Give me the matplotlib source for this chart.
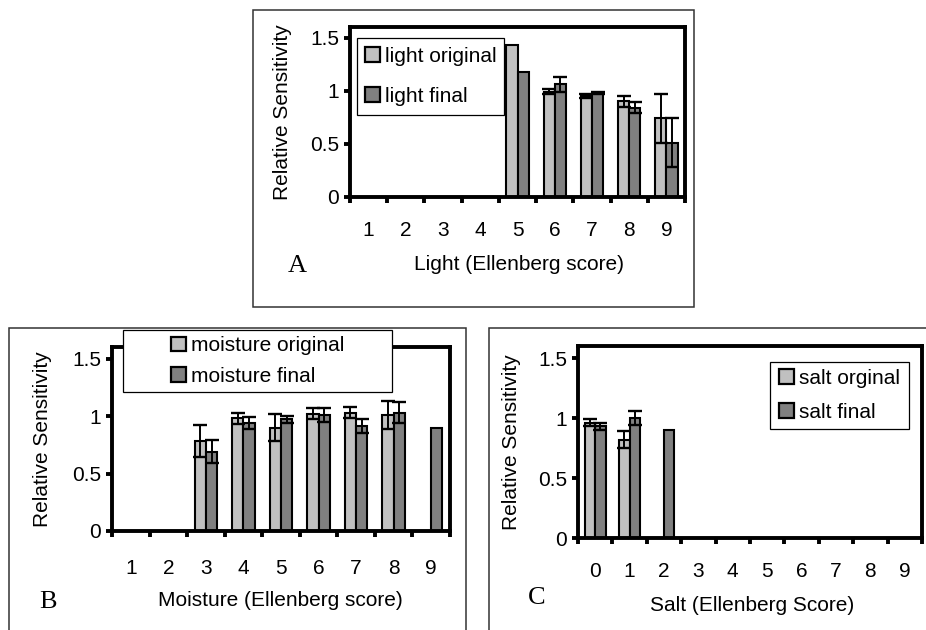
import numpy as np
import matplotlib
matplotlib.use("Agg")
import matplotlib.pyplot as plt
from matplotlib.patches import Rectangle, Patch

W, H = 926, 630
nan = np.nan

# Light (Ellenberg 1-9)
light_scores = [1, 2, 3, 4, 5, 6, 7, 8, 9]
light_orig = [nan, nan, nan, nan, 1.43, 0.99, 0.95, 0.90, 0.74]
light_orig_err = [nan, nan, nan, nan, nan, 0.025, 0.015, 0.05, 0.23]
light_final = [nan, nan, nan, nan, 1.18, 1.06, 0.98, 0.84, 0.51]
light_final_err = [nan, nan, nan, nan, nan, 0.07, 0.01, 0.05, 0.23]

# Moisture (Ellenberg 1-9)
moist_scores = [1, 2, 3, 4, 5, 6, 7, 8, 9]
moist_orig = [nan, nan, 0.78, 0.98, 0.90, 1.02, 1.03, 1.01, nan]
moist_orig_err = [nan, nan, 0.14, 0.05, 0.12, 0.05, 0.05, 0.12, nan]
moist_final = [nan, nan, 0.69, 0.94, 0.97, 1.01, 0.91, 1.03, 0.90]
moist_final_err = [nan, nan, 0.10, 0.05, 0.03, 0.06, 0.06, 0.095, nan]

# Salt (Ellenberg 0-9)
salt_scores = [0, 1, 2, 3, 4, 5, 6, 7, 8, 9]
salt_orig = [0.96, 0.82, nan, nan, nan, nan, nan, nan, nan, nan]
salt_orig_err = [0.03, 0.07, nan, nan, nan, nan, nan, nan, nan, nan]
salt_final = [0.93, 1.00, 0.90, nan, nan, nan, nan, nan, nan, nan]
salt_final_err = [0.03, 0.06, nan, nan, nan, nan, nan, nan, nan, nan]

LIGHT = "#c0c0c0"
DARK = "#808080"
FS = 15

plt.rcParams["font.family"] = ["Liberation Sans", "DejaVu Sans"]
plt.rcParams["font.size"] = FS

fig = plt.figure(figsize=(W / 100, H / 100), dpi=100)


def fx(x):
    return x / W


def fy(y):
    return 1 - y / H


def px_rect(x0, y0, x1, y1):
    return (fx(x0), fy(y1)), fx(x1) - fx(x0), fy(y0) - fy(y1)


def panel(box, scores, orig, orig_err, final, final_err, xlabel, letter, letter_xy,
          labels, legend_box, labelspacing, ylab_x, xlab_xy, xpad):
    ax = fig.add_axes([fx(box[0]), fy(box[3]), fx(box[2]) - fx(box[0]),
                       fy(box[1]) - fy(box[3])])
    x = np.array(scores, dtype=float)
    w = 0.3
    orig = np.array(orig)
    final = np.array(final)
    orig_err = np.array(orig_err)
    final_err = np.array(final_err)

    ax.bar(x - w / 2, orig, w, color=LIGHT, edgecolor="black", linewidth=1.5, zorder=2)
    ax.bar(x + w / 2, final, w, color=DARK, edgecolor="black", linewidth=1.5, zorder=2)
    for xs, ys, es in ((x - w / 2, orig, orig_err), (x + w / 2, final, final_err)):
        m = np.isfinite(es)
        ax.errorbar(xs[m], ys[m], yerr=es[m], fmt="none", ecolor="black",
                    elinewidth=1.4, capsize=5, capthick=1.7, zorder=3)

    ax.set_xlim(x[0] - 0.5, x[-1] + 0.5)
    ax.set_ylim(0, 1.6)
    ax.set_yticks([0, 0.5, 1, 1.5])
    ax.set_yticklabels(["0", "0.5", "1", "1.5"])
    ax.set_xticks(x)
    ax.set_xticklabels([str(s) for s in scores])
    ax.set_xticks(np.arange(x[0] - 0.5, x[-1] + 0.6, 1.0), minor=True)
    ax.tick_params(axis="x", which="major", length=0, pad=xpad)
    ax.tick_params(axis="x", which="minor", length=4, width=2.8, direction="out")
    ax.tick_params(axis="y", length=4, width=2.8, direction="out", pad=4)
    for s in ax.spines.values():
        s.set_linewidth(2.8)
        s.set_color("black")

    ax.set_ylabel("Relative Sensitivity")
    ax.yaxis.set_label_coords(ylab_x, 0.5)
    ax.yaxis.label.set_va("center")
    ax.set_xlabel(xlabel)
    ax.xaxis.set_label_coords(*xlab_xy)
    ax.xaxis.label.set_va("center")

    fig.text(fx(letter_xy[0]), fy(letter_xy[1]), letter, family="Liberation Serif",
             fontsize=19, ha="center", va="center")

    # legend frame plus entries
    (lx, ly), lw_, lh = px_rect(*legend_box)
    ax.add_patch(Rectangle((lx, ly), lw_, lh, transform=fig.transFigure,
                           facecolor="white", edgecolor="black", linewidth=0.9,
                           clip_on=False, zorder=4))
    handles = [Patch(facecolor=LIGHT, edgecolor="black", linewidth=1.6),
               Patch(facecolor=DARK, edgecolor="black", linewidth=1.6)]
    leg = ax.legend(handles, labels, loc="center",
                    bbox_to_anchor=(lx + lw_ / 2, ly + lh / 2),
                    bbox_transform=fig.transFigure, frameon=False, fontsize=FS,
                    handlelength=0.72, handleheight=0.72, handletextpad=0.25,
                    labelspacing=labelspacing, borderpad=0, borderaxespad=0)
    leg.set_zorder(5)
    return ax


# outer frames of each panel
for (x0, y0, x1, y1) in [(253, 10, 694, 307), (9, 328, 466, 660), (489, 328, 960, 660)]:
    xy, ww, hh = px_rect(x0, y0, x1, y1)
    fig.patches.append(Rectangle(xy, ww, hh, transform=fig.transFigure, fill=False,
                                 edgecolor="#333333", linewidth=1.1))

panel((350, 27, 685, 197), light_scores, light_orig, light_orig_err, light_final,
      light_final_err, "Light (Ellenberg score)", "A", (297, 266),
      ["light original", "light final"], (357, 38, 504, 115), 1.0,
      -0.2, (0.504, -0.40), 17)

panel((112, 347, 450, 531), moist_scores, moist_orig, moist_orig_err, moist_final,
      moist_final_err, "Moisture (Ellenberg score)", "B", (48, 602),
      ["moisture original", "moisture final"], (123, 330, 392, 392), 0.55,
      -0.207, (0.497, -0.38), 20)

panel((578, 346, 922, 538), salt_scores, salt_orig, salt_orig_err, salt_final,
      salt_final_err, "Salt (Ellenberg Score)", "C", (537, 598),
      ["salt orginal", "salt final"], (770, 362, 909, 429), 0.7,
      -0.192, (0.506, -0.349), 17)

fig.savefig("out.png", dpi=100, facecolor="white")
